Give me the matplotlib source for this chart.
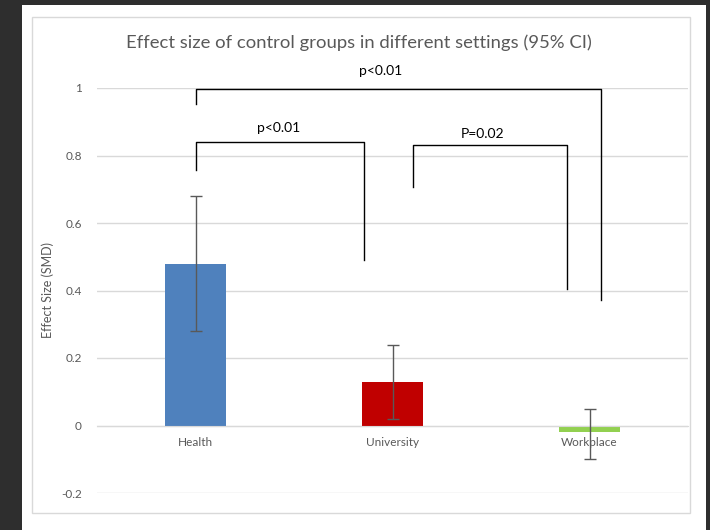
import matplotlib
matplotlib.use("Agg")
import matplotlib.pyplot as plt
from matplotlib.patches import Rectangle

plt.rcParams['font.family'] = ['Lato', 'DejaVu Sans']

# data
settings = ['Health', 'University', 'Workplace']
effect = [0.48, 0.13, -0.02]
ci_low = [0.28, 0.02, -0.10]
ci_high = [0.68, 0.24, 0.05]
colors = ['#4f81bd', '#c00000', '#92d050']

# significance brackets: x left, x right, top, left end, right end, label, label x, label y
brackets = [
    (0.0, 2.06, 0.998, 0.954, 0.373, 'p<0.01', 0.94, 1.05),
    (0.0, 0.855, 0.839, 0.758, 0.489, 'p<0.01', 0.42, 0.88),
    (1.104, 1.886, 0.830, 0.708, 0.403, 'P=0.02', 1.455, 0.865),
]

W, H = 710, 530
fig = plt.figure(figsize=(W / 100, H / 100), dpi=100, facecolor='#2e2e2e')

# white panel and light chart border
fig.patches.append(Rectangle((22 / W, 0), (706 - 22) / W, (H - 5) / H,
                             transform=fig.transFigure, facecolor='white',
                             edgecolor='none', zorder=-2))
fig.patches.append(Rectangle((32 / W, (H - 513) / H), (690 - 32) / W, (513 - 17) / H,
                             transform=fig.transFigure, facecolor='none',
                             edgecolor='#d9d9d9', lw=1, zorder=-1))

ax = fig.add_axes([97 / W, (H - 493) / H, (688 - 97) / W, (493 - 88) / H])
ax.set_facecolor('none')
ax.set_zorder(2)

x = list(range(len(settings)))
ax.bar(x, effect, width=0.31, color=colors, zorder=2)
yerr = [[e - lo for e, lo in zip(effect, ci_low)],
        [hi - e for e, hi in zip(effect, ci_high)]]
ax.errorbar(x, effect, yerr=yerr, fmt='none', ecolor='#595959',
            elinewidth=1, capsize=4, capthick=1, zorder=4)

ax.set_xlim(-0.5, 2.5)
ax.set_ylim(-0.2, 1.0)
ax.set_yticks([-0.2, 0, 0.2, 0.4, 0.6, 0.8, 1.0])
ax.set_yticklabels(['-0.2', '0', '0.2', '0.4', '0.6', '0.8', '1'])
ax.yaxis.grid(True, color='#d9d9d9', lw=1)
ax.set_axisbelow(True)
for s in ['top', 'right', 'left']:
    ax.spines[s].set_visible(False)
ax.spines['bottom'].set_position(('data', 0))
ax.spines['bottom'].set_color('#d9d9d9')
ax.set_xticks(x)
ax.set_xticklabels(settings)
ax.tick_params(axis='both', length=0, colors='#595959', labelsize=8.5)
ax.tick_params(axis='x', pad=8)
ax.tick_params(axis='y', pad=11)

ax.set_ylabel('Effect Size (SMD)', color='#595959', fontsize=9, labelpad=5)

for xl, xr, top, yl, yr, lab, tx, ty in brackets:
    ax.plot([xl, xl, xr, xr], [yl, top, top, yr], color='black', lw=1.0,
            clip_on=False, zorder=5)
    ax.text(tx, ty, lab, ha='center', va='center', fontsize=10, color='black',
            clip_on=False)

fig.text(359 / W, (H - 43) / H, 'Effect size of control groups in different settings (95% CI)',
         ha='center', va='center', fontsize=13.3, color='#595959')

fig.savefig('out.png', dpi=100, facecolor=fig.get_facecolor())
